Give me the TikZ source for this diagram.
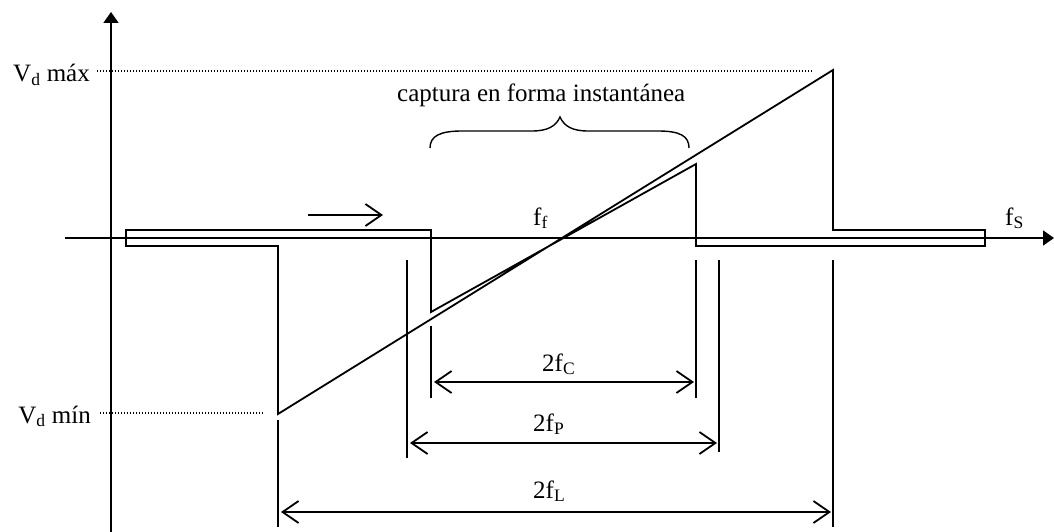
\documentclass[tikz,border=0pt]{standalone}
\usepackage{fontspec}
\setmainfont{Liberation Serif}
\usetikzlibrary{arrows.meta}
\begin{document}
\begin{tikzpicture}[x=1pt,y=-1pt,line join=miter,
  ln/.style={line width=1.8pt},
  barb/.tip={Straight Barb[length=16pt,width=22pt]},
  dimline/.style={line width=1.8pt,barb-barb},
  axis/.style={line width=1.8pt,-{Triangle[length=11pt,width=15pt]}},
  lbl/.style={font=\fontsize{25}{30}\selectfont,inner sep=0pt},
  dots/.style={line width=1.3pt,dash pattern=on 1.2pt off 1.8pt}]
\useasboundingbox (0,0) rectangle (1054,532);
% axes
\coordinate (xs) at (65,238);
\coordinate (xe) at (1054,238);
\coordinate (ys) at (111,532);
\coordinate (ye) at (111,12);
\draw[axis] (xs) -- (xe);
\draw[axis] (ys) -- (ye);
% waveform
\coordinate (p1) at (126,230);
\coordinate (p2) at (431,230);
\coordinate (p3) at (431,312);
\coordinate (p4) at (696,164);
\coordinate (p5) at (696,246);
\coordinate (p6) at (985,246);
\coordinate (p7) at (985,230);
\coordinate (p8) at (833,230);
\coordinate (p9) at (833,70);
\coordinate (p10) at (278,414);
\coordinate (p11) at (278,246);
\coordinate (p12) at (126,246);
\draw[ln] (p1) -- (p2) -- (p3) -- (p4) -- (p5) -- (p6) -- (p7) -- (p8) -- (p9) -- (p10) -- (p11) -- (p12) -- cycle;
% dotted level lines
\coordinate (dmaxa) at (97,71);
\coordinate (dmaxb) at (812,71);
\coordinate (dmina) at (100,413);
\coordinate (dminb) at (264,413);
\draw[dots] (dmaxa) -- (dmaxb);
\draw[dots] (dmina) -- (dminb);
% marker lines
\coordinate (m1a) at (278,420); \coordinate (m1b) at (278,527);
\coordinate (m2a) at (407,260); \coordinate (m2b) at (407,458);
\coordinate (m3a) at (431,326); \coordinate (m3b) at (431,398);
\coordinate (m4a) at (696,260); \coordinate (m4b) at (696,398);
\coordinate (m5a) at (719,260); \coordinate (m5b) at (719,452);
\coordinate (m6a) at (833,260); \coordinate (m6b) at (833,527);
\foreach \m in {1,...,6} \draw[ln] (m\m a) -- (m\m b);
% dimension arrows
\coordinate (ca) at (434,382); \coordinate (cb) at (694,382);
\coordinate (pa) at (410,443); \coordinate (pb) at (717,443);
\coordinate (la) at (281,512); \coordinate (lb) at (831,512);
\draw[dimline] (ca) -- (cb);
\draw[dimline] (pa) -- (pb);
\draw[dimline] (la) -- (lb);
% small direction arrow
\coordinate (sa) at (308,215); \coordinate (sb) at (383,215);
\draw[ln,-barb] (sa) -- (sb);
% brace
\coordinate (bl) at (430,148);
\coordinate (bm) at (560,117);
\coordinate (br) at (689,148);
\draw[line width=1.4pt] (bl) .. controls (430,136) and (440,131) .. (462,131) -- (532,131)
  .. controls (548,131) and (556,126) .. (bm)
  .. controls (564,126) and (572,131) .. (588,131) -- (658,131)
  .. controls (680,131) and (689,136) .. (br);
% labels
\node[lbl,anchor=base east] (vmax) at (90,82) {V\textsubscript{d} máx};
\node[lbl,anchor=base east] (vmin) at (91,423) {V\textsubscript{d} mín};
\node[lbl,anchor=base west] (cap) at (397,102) {captura en forma instantánea};
\node[lbl,anchor=base west] (ff) at (533,225) {f\textsubscript{f}};
\node[lbl,anchor=base west] (fs) at (1005,225) {f\textsubscript{S}};
\node[lbl,anchor=base west] (fc) at (542,371) {2f\textsubscript{C}};
\node[lbl,anchor=base west] (fp) at (533,431) {2f\textsubscript{P}};
\node[lbl,anchor=base west] (fl) at (533,498) {2f\textsubscript{L}};
\end{tikzpicture}
\end{document}
